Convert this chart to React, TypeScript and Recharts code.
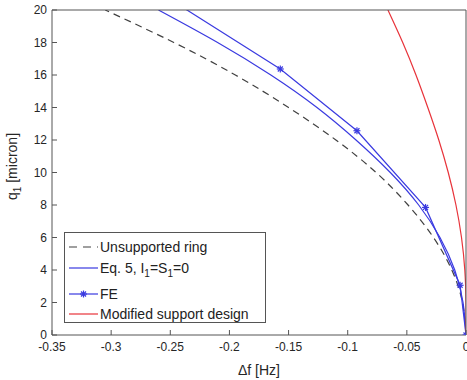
import { LineChart, Line, XAxis, YAxis, Legend } from 'recharts'

// Δf [Hz] vs q1 [micron]
const qUnsupported = [0, 2, 4, 6, 8, 10, 12, 14, 16, 18, 20]
const dfUnsupported = [0, -0.003, -0.012, -0.0275, -0.049, -0.076, -0.11, -0.15, -0.195, -0.247, -0.305]

const qEq5 = [0, 2, 4, 6, 8, 10, 12, 14, 16, 18, 20]
const dfEq5 = [0, -0.0025, -0.0095, -0.022, -0.04, -0.064, -0.093, -0.126, -0.165, -0.21, -0.26]

const qFE = [0, 3.06, 7.85, 12.57, 16.37, 21.2]
const dfFE = [0, -0.005, -0.0342, -0.0922, -0.157, -0.262]

const qModified = [0, 2, 4, 6, 8, 10, 12, 14, 16, 18, 20]
const dfModified = [0, 0, -0.001, -0.0038, -0.0085, -0.015, -0.023, -0.0323, -0.0423, -0.0535, -0.066]

const xTicks = [-0.35, -0.3, -0.25, -0.2, -0.15, -0.1, -0.05, 0]
const yTicks = [0, 2, 4, 6, 8, 10, 12, 14, 16, 18, 20]

const pts = (df: number[], q: number[]) => df.map((d, i) => ({ df: d, q: q[i] }))

const BLUE = '#3a3ae0'
const RED = '#e8333a'
const DASH = '#404040'
const AXIS = '#555'
const FONT = '"Liberation Sans", Arial, sans-serif'

function StarMark({ cx, cy, color = BLUE }: { cx: number; cy: number; color?: string }) {
  const r = 3.5
  const d = 2.5
  return (
    <g stroke={color} strokeWidth={1.2}>
      <line x1={cx - r} y1={cy} x2={cx + r} y2={cy} />
      <line x1={cx} y1={cy - r} x2={cx} y2={cy + r} />
      <line x1={cx - d} y1={cy - d} x2={cx + d} y2={cy + d} />
      <line x1={cx - d} y1={cy + d} x2={cx + d} y2={cy - d} />
    </g>
  )
}

function FEDot(props: any) {
  const { cx, cy, payload, index } = props
  if (payload.q > 20) return <g key={index} />
  return <StarMark key={index} cx={cx} cy={cy} />
}

function LegendBox() {
  const row = (top: number, sample: React.ReactNode, text: React.ReactNode) => (
    <div style={{ position: 'absolute', left: 0, top: top - 10, height: 20, width: 200 }}>
      <svg width={34} height={20} style={{ position: 'absolute', left: 3, top: 0 }}>
        {sample}
      </svg>
      <div style={{ position: 'absolute', left: 35, top: 1, fontSize: 14, lineHeight: '18px', color: '#222', whiteSpace: 'nowrap' }}>
        {text}
      </div>
    </div>
  )
  return (
    <div style={{ position: 'relative', width: 200, height: 89, border: `1px solid ${AXIS}`, background: '#fff', fontFamily: FONT }}>
      {row(14, <line x1={1} y1={10} x2={30} y2={10} stroke={DASH} strokeWidth={1.2} strokeDasharray="8 6" />, 'Unsupported ring')}
      {row(34.5, <line x1={1} y1={10} x2={30} y2={10} stroke={BLUE} strokeWidth={1.2} />, (
        <span>Eq. 5, I<sub style={{ fontSize: 10 }}>1</sub>=S<sub style={{ fontSize: 10 }}>1</sub>=0</span>
      ))}
      {row(60.5, (
        <g>
          <line x1={1} y1={10} x2={30} y2={10} stroke={BLUE} strokeWidth={1.2} />
          <StarMark cx={15.5} cy={10} />
        </g>
      ), 'FE')}
      {row(80.5, <line x1={1} y1={10} x2={30} y2={10} stroke={RED} strokeWidth={1.2} />, 'Modified support design')}
    </div>
  )
}

const XLabel = (props: any) => {
  const { viewBox } = props
  return (
    <text x={viewBox.x + viewBox.width / 2} y={viewBox.y + 40} textAnchor="middle" fontSize={14} fill="#262626" fontFamily={FONT}>
      Δf [Hz]
    </text>
  )
}

const YLabel = (props: any) => {
  const { viewBox } = props
  const cx = 17
  const cy = viewBox.y + viewBox.height / 2 - 6
  return (
    <text x={cx} y={cy} transform={`rotate(-90 ${cx} ${cy})`} textAnchor="middle" fontSize={14} fill="#262626" fontFamily={FONT}>
      q<tspan fontSize={10} dy={4}>1</tspan>
      <tspan dy={-4}> [micron]</tspan>
    </text>
  )
}

const tickStyle = { fontSize: 12, fill: '#262626', fontFamily: FONT }

export default function App() {
  return (
    <div style={{ position: 'absolute', left: 0, top: 0, width: 467, height: 380, background: '#fff', fontFamily: FONT }}>
      <LineChart width={467} height={380} margin={{ top: 0, right: 0, bottom: 0, left: 0 }}>
        <XAxis
          xAxisId="b"
          type="number"
          dataKey="df"
          domain={[-0.35, 0]}
          ticks={xTicks}
          interval={0}
          allowDataOverflow
          height={45}
          tickSize={-5}
          tickMargin={12}
          tick={tickStyle}
          stroke={AXIS}
          label={<XLabel />}
        />
        <XAxis
          xAxisId="t"
          orientation="top"
          type="number"
          domain={[-0.35, 0]}
          ticks={xTicks}
          interval={0}
          allowDataOverflow
          height={10}
          tickSize={-5}
          tick={false}
          stroke={AXIS}
        />
        <YAxis
          yAxisId="l"
          type="number"
          dataKey="q"
          domain={[0, 20]}
          ticks={yTicks}
          interval={0}
          allowDataOverflow
          width={52}
          tickSize={-5}
          tickMargin={10}
          tick={tickStyle}
          stroke={AXIS}
          label={<YLabel />}
        />
        <YAxis
          yAxisId="r"
          orientation="right"
          type="number"
          domain={[0, 20]}
          ticks={yTicks}
          interval={0}
          allowDataOverflow
          width={1}
          tickSize={-5}
          tick={false}
          stroke={AXIS}
        />
        <Legend
          layout="vertical"
          align="center"
          verticalAlign="middle"
          wrapperStyle={{ left: 64, top: 232, width: 202, height: 91 }}
          content={() => <LegendBox />}
        />
        <Line
          xAxisId="b"
          yAxisId="l"
          data={pts(dfUnsupported, qUnsupported)}
          dataKey="q"
          type="natural"
          stroke={DASH}
          strokeWidth={1.2}
          strokeDasharray="7 5"
          dot={false}
          isAnimationActive={false}
        />
        <Line
          xAxisId="b"
          yAxisId="l"
          data={pts(dfEq5, qEq5)}
          dataKey="q"
          type="natural"
          stroke={BLUE}
          strokeWidth={1.2}
          dot={false}
          isAnimationActive={false}
        />
        <Line
          xAxisId="b"
          yAxisId="l"
          data={pts(dfFE, qFE)}
          dataKey="q"
          type="linear"
          stroke={BLUE}
          strokeWidth={1.2}
          dot={FEDot}
          isAnimationActive={false}
        />
        <Line
          xAxisId="b"
          yAxisId="l"
          data={pts(dfModified, qModified)}
          dataKey="q"
          type="natural"
          stroke={RED}
          strokeWidth={1.2}
          dot={false}
          isAnimationActive={false}
        />
      </LineChart>
    </div>
  )
}
